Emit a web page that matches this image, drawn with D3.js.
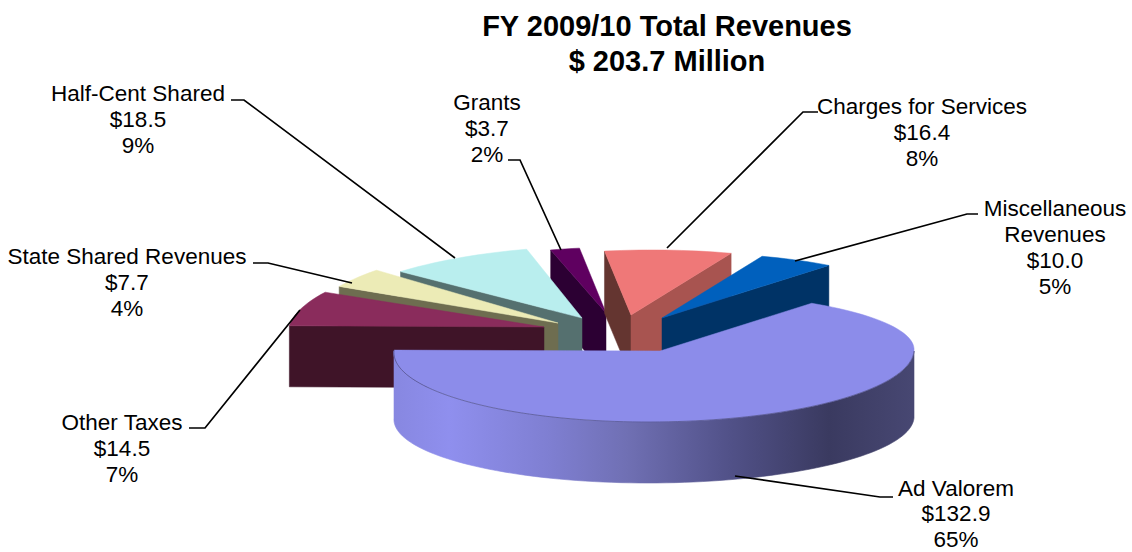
<!DOCTYPE html>
<html><head><meta charset="utf-8">
<script src="https://cdn.jsdelivr.net/npm/d3@7"></script>
<style>html,body{margin:0;padding:0;background:#fff}svg{display:block}</style>
</head><body><div id="chart"></div>
<script>
// ---- data ----
const categories = ["Ad Valorem","Other Taxes","State Shared Revenues","Half-Cent Shared","Grants","Charges for Services","Miscellaneous Revenues"];
const amounts = [132.9,14.5,7.7,18.5,3.7,16.4,10.0];
const percents = ["65%","7%","4%","9%","2%","8%","5%"];
const nameLines = [["Ad Valorem"],["Other Taxes"],["State Shared Revenues"],["Half-Cent Shared"],["Grants"],["Charges for Services"],["Miscellaneous","Revenues"]];
const titleLines = ["FY 2009/10 Total Revenues","$ 203.7 Million"];

// ---- styling / layout ----
const W=1132,H=552;
const faceColors=["#8c8cea","#8a2c5c","#ecebb6","#b9eeee","#5f0060","#ef7878","#0060bd"];
const leftWall=[null,"#3f1428","#6e6d50","#55706f","#2c0033","#643530",null];
const rightWall=[null,null,null,null,null,"#a85450","#003366"];
const explode=[
 {ax:654,tip:660,ay:351,rx:260,skew:6,ry:59,ryF:71,h:67,ryB:65},
 {ax:544,ay:327,rx:255,skew:21,ry:78,h:61},
 {ax:558,ay:323,rx:255,skew:21,ry:82,h:62},
 {ax:582,ay:318,rx:255,skew:21,ry:72,h:62},
 {ax:606,ay:313,rx:255,skew:21,ry:66,h:62},
 {ax:631,ay:315,rx:255,skew:21,ry:65,h:62},
 {ax:662,ay:318,rx:255,skew:21,ry:65,h:62}];
const labelPos=[
 {x:956,y:488,gap:25.5,lead:[[893,497],[880,497],[735,476]]},
 {x:122,y:422,lead:[[189,428],[205,428],[300,310]]},
 {x:127,y:256,lead:[[253,263],[268,263],[352,283]]},
 {x:138,y:93,lead:[[231,100],[244,100],[455,258]]},
 {x:487,y:102,lead:[[508,160],[520,160],[561,250]]},
 {x:922,y:106,lead:[[818,112],[803,112],[667,248]]},
 {x:1055,y:208,lead:[[978,214],[967,214],[795,261]]}];
const drawOrder=[4,3,2,1,5,6,0];
const FONT="'Liberation Sans',Arial,sans-serif";

const svg=d3.select("#chart").append("svg").attr("width",W).attr("height",H);
const rad=d=>d*Math.PI/180;
const arcs=d3.pie().sort(null).startAngle(rad(36)).endAngle(rad(396))(amounts);
const line=d3.line().x(p=>p[0]).y(p=>p[1]);

function project(L,a,drop=0,bottom=false){
  const s=Math.sin(a),c=Math.cos(a);
  const ry=c<0?((bottom&&L.ryB)||L.ryF||L.ry):L.ry;
  return [L.ax+L.rx*s+L.skew*c, L.ay-ry*c+drop];
}
function arcPts(L,a0,a1,drop=0,bottom=false){
  const n=Math.max(4,Math.ceil((a1-a0)/rad(2)));
  return d3.range(n+1).map(i=>project(L,a0+(a1-a0)*i/n,drop,bottom));
}

const defs=svg.append("defs");
const grad=defs.append("linearGradient").attr("id","wallGrad").attr("gradientUnits","userSpaceOnUse")
 .attr("x1",392).attr("x2",912).attr("y1",0).attr("y2",0);
[[0,"#8787e0"],[0.11,"#8f8fee"],[0.3,"#7f7fd2"],[0.45,"#7070b4"],[0.65,"#515188"],[0.84,"#3a3a60"],[1,"#474772"]]
 .forEach(s=>grad.append("stop").attr("offset",s[0]).attr("stop-color",s[1]));

const quad=(L,p)=>[[L.ax,L.ay],p,[p[0],p[1]+L.h],[L.ax,L.ay+L.h]];
const g=svg.append("g");
drawOrder.forEach(i=>{
  const d=arcs[i],L=explode[i];
  const a0=d.startAngle,a1=d.endAngle;
  const sg=g.append("g").attr("class","slice");
  const pA=project(L,a0),pB=project(L,a1);
  if(leftWall[i]) sg.append("path").attr("d",line(quad(L,pA))+"Z").attr("fill",leftWall[i]).attr("stroke",leftWall[i]).attr("stroke-width",0.5);
  if(rightWall[i]) sg.append("path").attr("d",line(quad(L,pB))+"Z").attr("fill",rightWall[i]).attr("stroke",rightWall[i]).attr("stroke-width",0.5);
  if(i===0){
    const a270=rad(270);
    const top=arcPts(L,rad(90),a270);
    const bot=arcPts(L,rad(90),a270,L.h,true).reverse();
    sg.append("path").attr("d",line(top.concat(bot))+"Z").attr("fill","url(#wallGrad)").attr("stroke","url(#wallGrad)").attr("stroke-width",0.6);
  }
  const face=[[L.tip||L.ax,L.ay]].concat(arcPts(L,a0,a1));
  sg.append("path").attr("d",line(face)+"Z").attr("fill",faceColors[i]).attr("stroke",faceColors[i]).attr("stroke-width",0.5);
  if(i===0){
    sg.append("path").attr("d",line(arcPts(L,rad(90),a1))).attr("fill","none").attr("stroke","#3e3e66").attr("stroke-opacity",0.65).attr("stroke-width",0.8);
  }
});

// leaders
svg.append("g").selectAll("path").data(labelPos).join("path")
 .attr("d",d=>line(d.lead)).attr("fill","none").attr("stroke","#000").attr("stroke-width",1.7);

// labels
const labels=svg.append("g").attr("font-family",FONT).attr("font-size",22.5).attr("fill","#000").attr("text-anchor","middle");
categories.forEach((c,i)=>{
  const lines=nameLines[i].concat(["$"+amounts[i].toFixed(1),percents[i]]);
  lines.forEach((t,j)=>labels.append("text").attr("x",labelPos[i].x).attr("y",labelPos[i].y+(labelPos[i].gap||26)*j).attr("dy","0.35em").text(t));
});
// title
const tg=svg.append("g").attr("font-family",FONT).attr("font-size",29).attr("font-weight","bold").attr("text-anchor","middle");
titleLines.forEach((t,j)=>tg.append("text").attr("x",667).attr("y",26+34.5*j).attr("dy","0.35em").text(t));
</script></body></html>
